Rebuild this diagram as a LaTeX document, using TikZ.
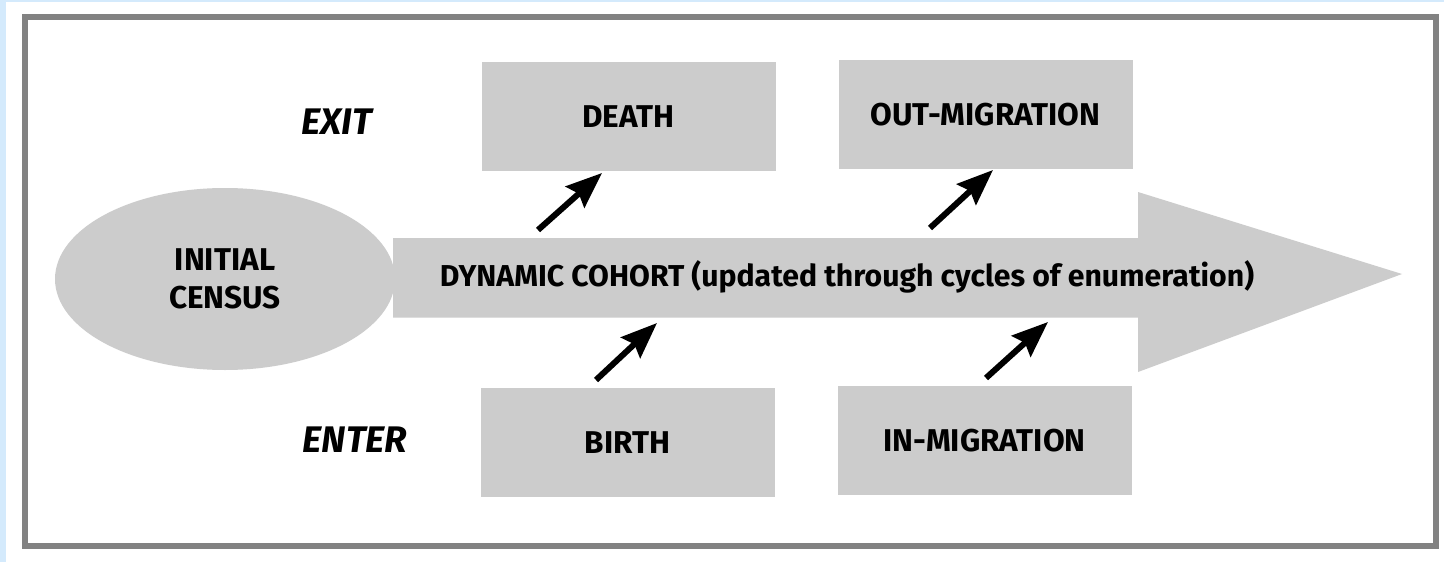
\documentclass[tikz,border=0pt]{standalone}
\usepackage{fontspec}
\setmainfont{Fira Sans}
\usetikzlibrary{arrows.meta,shapes.geometric}
\definecolor{bgblue}{HTML}{D4EAFC}
\definecolor{framegray}{HTML}{828282}
\definecolor{boxgray}{HTML}{CCCCCC}
\tikzset{
  eventbox/.style={fill=boxgray, draw=none, minimum width=294pt, minimum height=109pt, inner sep=0pt,
    font=\fontsize{31.5}{36}\selectfont\bfseries},
  sidelabel/.style={inner sep=0pt, font=\fontsize{37}{40}\selectfont\bfseries\itshape},
  flowarrow/.style={line width=6pt, -{Stealth[length=36pt,width=28pt,inset=5pt]}},
}
\begin{document}
\begin{tikzpicture}[x=1pt,y=-1pt]
\useasboundingbox (0,0) rectangle (1444,562);
\fill[bgblue] (0,0) rectangle (1444,562);
\fill[white] (6,2) rectangle (1444,562);
\draw[framegray, line width=6pt] (25,16.5) rectangle (1436,546);
% cohort arrow
\fill[boxgray] (393,238) -- (1138,238) -- (1138,192) -- (1402,274) -- (1138,372) -- (1138,317.5) -- (393,317.5) -- cycle;
\node[inner sep=0pt, font=\fontsize{30.2}{34}\selectfont\bfseries] (cohort) at (847,277) {DYNAMIC COHORT (updated through cycles of enumeration)};
% initial census
\node[ellipse, fill=boxgray, minimum width=340pt, minimum height=182pt, inner sep=0pt, align=center,
  font=\fontsize{31.5}{38}\selectfont\bfseries] (census) at (225,279) {INITIAL\\CENSUS};
% boxes
\node[eventbox] (death) at (628.5,116.5) {DEATH};
\node[eventbox] (out) at (985.5,114.5) {OUT-MIGRATION};
\node[eventbox] (birth) at (627.5,442.5) {BIRTH};
\node[eventbox] (in) at (984.5,440.5) {IN-MIGRATION};
% labels
\node[sidelabel] (exit) at (337,122) {EXIT};
\node[sidelabel] (enter) at (355,440) {ENTER};
% arrows
\coordinate (a1s) at (538,230); \coordinate (a1e) at (602,173);
\coordinate (a2s) at (930,228); \coordinate (a2e) at (993,170);
\coordinate (a3s) at (596,380); \coordinate (a3e) at (657,323);
\coordinate (a4s) at (986,378); \coordinate (a4e) at (1048,322);
\draw[flowarrow] (a1s) -- (a1e);
\draw[flowarrow] (a2s) -- (a2e);
\draw[flowarrow] (a3s) -- (a3e);
\draw[flowarrow] (a4s) -- (a4e);
\end{tikzpicture}
\end{document}
